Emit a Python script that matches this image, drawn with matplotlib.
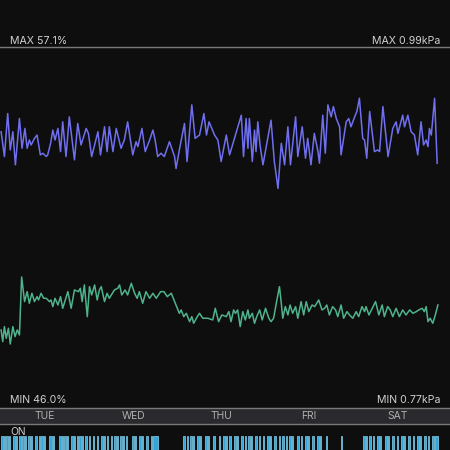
import matplotlib.pyplot as plt
from matplotlib.lines import Line2D

# time in hours since Tuesday 00:00
hum_t = [0.0, 0.45, 0.9, 1.4, 2.0, 2.5, 3.2, 3.8, 4.4, 5.0, 5.6, 6.4, 7.1, 7.7, 8.4, 9.1,
         9.8, 10.2, 10.9, 11.6, 12.3, 13.2, 13.6, 14.1, 14.7, 15.5, 16.2, 16.8, 18.2, 19.1,
         20.0, 21.1, 21.6, 22.1, 22.7, 23.5, 24.1, 24.7, 25.5, 26.2, 26.8, 27.3, 28.2, 28.9,
         29.5, 30.9, 31.8, 32.3, 32.9, 33.8, 34.5, 35.5, 36.4, 37.1, 37.7, 38.6, 39.5, 40.5,
         41.4, 42.3, 43.5, 44.4, 45.3, 46.4, 47.7, 48.6, 49.1, 49.8, 50.5, 51.4, 52.0, 52.5,
         53.5, 54.1, 55.0, 56.4, 57.7, 58.4, 59.3, 60.2, 61.4, 62.1, 62.7, 63.4, 63.9, 64.5,
         65.2, 65.9, 66.6, 67.3, 67.7, 68.5, 69.1, 69.7, 70.5, 71.2, 72.1, 73.0, 73.6, 74.3,
         75.2, 75.9, 76.4, 76.8, 77.5, 78.2, 78.8, 79.5, 80.3, 80.9, 81.8, 82.5, 83.2, 83.9,
         84.8, 85.5, 86.6, 87.5, 88.2, 88.8, 89.5, 90.4, 91.2, 91.8, 92.7, 93.4, 94.3, 95.0,
         95.9, 96.8, 97.5, 98.4, 99.1, 99.5, 100.3, 102.1, 103.0, 103.9, 104.5, 105.4, 106.1,
         106.8, 107.7, 108.6, 109.5, 110.4, 111.4, 112.3, 113.2, 113.9, 114.8, 115.4, 115.9,
         116.4, 117.0, 117.7, 118.4, 119.1]
humidity = [48.32, 46.39, 48.88, 46.94, 48.60, 46.0, 48.88, 47.22, 48.32, 47.49, 57.1, 53.02,
            54.67, 52.74, 54.40, 53.02, 53.85, 53.29, 54.40, 53.57, 53.57, 53.02, 53.29, 52.19,
            53.57, 52.46, 53.85, 51.91, 54.67, 51.91, 54.95, 54.67, 55.23, 53.02, 55.78, 50.53,
            55.50, 54.12, 55.78, 53.29, 54.95, 55.50, 53.02, 54.40, 53.57, 54.95, 55.23, 55.78,
            54.12, 54.95, 54.12, 56.05, 54.40, 53.57, 54.67, 52.74, 54.67, 53.57, 54.40, 53.57,
            54.67, 54.67, 53.85, 54.40, 52.46, 51.08, 51.64, 50.53, 51.08, 49.70, 50.53, 49.43,
            50.53, 51.08, 50.26, 50.26, 49.98, 51.91, 49.70, 50.81, 50.53, 51.36, 49.70, 51.64,
            51.08, 51.64, 48.88, 51.36, 49.98, 51.64, 50.26, 51.08, 49.43, 50.53, 51.64, 49.98,
            51.91, 50.26, 49.70, 50.26, 53.29, 55.50, 52.74, 50.26, 52.19, 50.81, 52.46, 51.08,
            52.19, 50.26, 53.02, 50.81, 53.02, 51.36, 52.46, 52.19, 53.29, 51.64, 51.91, 52.46,
            50.81, 52.19, 51.64, 50.53, 52.46, 50.26, 51.36, 50.81, 50.26, 51.36, 50.53, 52.19,
            51.36, 52.19, 50.81, 53.02, 50.81, 52.46, 50.53, 52.19, 51.64, 50.53, 51.91, 50.53,
            51.64, 50.81, 51.64, 51.08, 51.36, 51.64, 51.91, 51.36, 52.19, 49.70, 50.26, 49.43,
            50.81, 52.46]

vpd_t = [0.0, 0.9, 1.8, 2.5, 3.2, 3.9, 5.0, 5.7, 6.5, 7.1, 7.7, 8.2, 9.1, 9.8, 10.7, 11.4,
         12.3, 12.7, 13.5, 14.1, 14.7, 15.5, 16.2, 16.8, 17.7, 18.6, 20.0, 20.9, 21.8, 23.2,
         23.8, 24.7, 26.4, 27.1, 28.2, 28.9, 29.5, 30.5, 31.4, 32.7, 33.6, 34.5, 35.9, 36.8,
         37.3, 38.4, 39.3, 40.5, 41.4, 42.0, 42.7, 43.6, 44.5, 45.9, 47.3, 47.7, 48.6, 50.0,
         50.7, 52.0, 52.9, 54.1, 55.3, 56.0, 56.7, 58.2, 59.1, 60.0, 61.4, 62.3, 65.5, 66.1,
         66.8, 67.3, 67.7, 68.5, 69.1, 69.5, 70.0, 70.6, 71.4, 73.6, 74.5, 75.5, 76.4, 77.3,
         78.2, 78.9, 80.3, 80.9, 82.1, 83.0, 83.6, 84.5, 85.4, 86.4, 86.8, 87.7, 88.4, 89.1,
         90.0, 90.6, 91.4, 92.3, 92.7, 94.1, 94.8, 95.4, 96.4, 97.0, 97.7, 98.6, 99.1, 99.7,
         100.5, 101.8, 102.7, 103.2, 104.1, 105.5, 106.8, 107.7, 108.2, 109.5, 110.0, 110.9,
         111.8, 112.7, 113.6, 114.5, 115.2, 115.9, 116.4, 116.8, 117.3, 118.2, 118.9]
vpd = [0.906, 0.846, 0.950, 0.862, 0.906, 0.826, 0.938, 0.866, 0.914, 0.866, 0.886, 0.874,
       0.890, 0.898, 0.850, 0.854, 0.846, 0.850, 0.878, 0.910, 0.886, 0.914, 0.858, 0.930,
       0.846, 0.942, 0.838, 0.926, 0.874, 0.914, 0.902, 0.846, 0.906, 0.850, 0.918, 0.858,
       0.918, 0.858, 0.914, 0.866, 0.886, 0.930, 0.850, 0.882, 0.870, 0.914, 0.858, 0.886,
       0.910, 0.886, 0.846, 0.854, 0.846, 0.882, 0.846, 0.817, 0.862, 0.926, 0.834, 0.971,
       0.890, 0.898, 0.950, 0.898, 0.930, 0.898, 0.886, 0.834, 0.898, 0.850, 0.946, 0.846,
       0.938, 0.866, 0.938, 0.834, 0.910, 0.858, 0.930, 0.874, 0.826, 0.934, 0.834, 0.769,
       0.878, 0.826, 0.918, 0.826, 0.942, 0.846, 0.918, 0.842, 0.890, 0.826, 0.902, 0.858,
       0.830, 0.946, 0.854, 0.971, 0.942, 0.967, 0.938, 0.918, 0.850, 0.930, 0.938, 0.918,
       0.942, 0.955, 0.987, 0.890, 0.886, 0.842, 0.955, 0.858, 0.862, 0.858, 0.967, 0.846,
       0.914, 0.930, 0.902, 0.946, 0.918, 0.946, 0.906, 0.898, 0.850, 0.930, 0.874, 0.886,
       0.870, 0.914, 0.898, 0.987, 0.830]

# periods where the device was ON (start, end) in hours
on_periods = [
    (0.0, 0.5), (0.8, 1.1), (1.4, 1.9), (2.2, 2.5), (3.3, 3.8), (4.1, 4.4), (4.9, 5.5),
    (5.7, 6.3), (6.5, 6.8), (7.4, 7.9), (8.2, 8.5), (9.3, 9.8), (10.4, 10.6), (10.9, 11.5),
    (11.7, 12.0), (13.1, 13.9), (14.2, 14.5), (15.8, 16.4), (16.6, 16.9), (17.2, 17.7),
    (18.0, 18.3), (19.1, 19.6), (19.9, 20.2), (20.7, 21.0), (21.3, 21.8), (22.1, 22.4),
    (22.9, 23.5), (24.0, 24.3), (25.1, 25.4), (26.2, 26.5), (27.3, 27.8), (28.1, 28.4),
    (28.9, 29.2), (30.0, 30.3), (30.8, 31.4), (31.6, 31.9), (32.5, 33.0), (33.3, 33.5),
    (34.1, 34.4), (35.7, 36.3), (36.5, 36.8), (37.6, 38.2), (38.5, 38.7), (39.5, 40.1),
    (40.9, 41.2), (41.5, 42.8),
    (49.6, 50.2), (50.7, 51.0), (51.5, 52.1), (52.4, 52.6), (53.5, 54.0), (54.3, 54.5),
    (55.6, 56.2), (56.5, 56.7), (57.8, 58.4), (59.5, 59.7), (60.5, 61.1), (61.4, 61.6),
    (62.2, 62.7), (63.5, 64.1), (64.4, 64.6), (65.5, 66.0), (66.5, 66.8), (67.4, 67.9),
    (68.2, 68.4), (69.3, 69.8), (70.4, 70.6), (71.5, 71.7), (72.5, 73.1), (73.4, 73.6),
    (74.4, 75.0), (75.8, 76.1), (76.6, 77.2), (77.7, 78.0), (78.5, 79.1), (79.4, 79.6),
    (80.7, 81.3), (81.8, 82.1), (82.9, 83.4), (83.7, 84.0), (84.8, 85.4), (86.2, 86.7),
    (87.0, 87.3), (88.6, 88.9), (92.7, 93.0),
    (98.7, 99.3), (99.5, 99.8), (100.4, 100.9), (101.4, 101.7), (102.5, 103.1),
    (103.4, 103.6), (104.7, 105.3), (105.5, 105.8), (106.6, 107.2), (108.0, 108.3),
    (109.1, 109.6), (109.9, 110.2), (111.0, 111.5), (112.4, 112.6), (113.5, 114.0),
    (114.3, 114.5), (115.4, 115.9), (116.4, 116.7), (117.5, 118.1), (118.4, 119.2),
]

days = ['TUE', 'WED', 'THU', 'FRI', 'SAT']
hum_max, hum_min = 57.1, 46.0
vpd_max, vpd_min = 0.99, 0.77

bg = '#0e0e0e'
txt = '#d0d0d0'
xlim = (-0.3, 122.4)

plt.rcParams['font.family'] = ['Inter', 'DejaVu Sans']
fig = plt.figure(figsize=(4.5, 4.5), dpi=100, facecolor=bg)

# main plot area (both series share it, each with its own y scale)
ax_h = fig.add_axes([0, 0.0956, 1, 0.8], facecolor=bg)
ax_v = fig.add_axes([0, 0.0956, 1, 0.8], facecolor='none')
for a in (ax_h, ax_v):
    a.set_xlim(*xlim)
    a.axis('off')
ax_h.set_ylim(35.56, 95.21)
ax_v.set_ylim(0.2404, 1.111)
ax_h.plot(hum_t, humidity, color='#4fb38c', lw=1.1, solid_joinstyle='round')
ax_v.plot(vpd_t, vpd, color='#6f6ff0', lw=1.1, solid_joinstyle='round')

# separator lines
for y in (1 - 47 / 450, 1 - 407.5 / 450, 1 - 424 / 450):
    fig.add_artist(Line2D([0, 1], [y, y], color='#7a7a7a', lw=1.0))

fig.text(0.022, 0.902, f'MAX {hum_max}%', color=txt, fontsize=7.6, va='baseline')
fig.text(0.978, 0.902, f'MAX {vpd_max}kPa', color=txt, fontsize=7.6, va='baseline', ha='right')
fig.text(0.022, 0.104, f'MIN {hum_min}%', color=txt, fontsize=7.6, va='baseline')
fig.text(0.978, 0.104, f'MIN {vpd_min}kPa', color=txt, fontsize=7.6, va='baseline', ha='right')

# day band
ax_d = fig.add_axes([0, 1 - 423.5 / 450, 1, 15.5 / 450], facecolor='#2a2a2e')
ax_d.set_xlim(*xlim)
ax_d.set_ylim(0, 1)
ax_d.axis('off')
ax_d.add_patch(plt.Rectangle((xlim[0], 0), xlim[1] - xlim[0], 1, color='#2a2a2e', zorder=0))
for i, d in enumerate(days):
    ax_d.text(12 + 24 * i, 0.5, d, color='#b0b0b0', fontsize=7.4, ha='center', va='center')

fig.text(0.024, 0.034, 'ON', color=txt, fontsize=7.4, va='baseline')

# on/off strip
ax_o = fig.add_axes([0, 0, 1, 14 / 450], facecolor=bg)
ax_o.set_xlim(*xlim)
ax_o.set_ylim(0, 1)
ax_o.axis('off')
starts = [s for s, e in on_periods]
widths = [e - s for s, e in on_periods]
ax_o.bar(starts, [1] * len(starts), width=widths, align='edge', color='#36a6d8',
         edgecolor='#86d4f0', linewidth=0.5)

fig.savefig('out.png', dpi=100, facecolor=bg)
